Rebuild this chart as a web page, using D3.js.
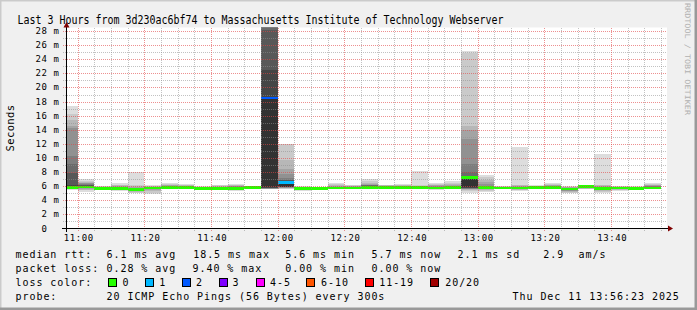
<!DOCTYPE html>
<html>
<head>
<meta charset="utf-8">
<script src="https://cdn.jsdelivr.net/npm/d3@7"></script>
<style>
  body { margin: 0; background: #fff; }
  svg text { font-family: "DejaVu Sans Mono", monospace; white-space: pre; }
</style>
</head>
<body>
<div id="vis"></div>
<script>
const W = 697, H = 310;
const plot = { left: 66, right: 666, top: 27.5, bottom: 228.5 };

// window shown and the 5 minute steps
const day = '2025-12-11';
const windowStart = '10:56:23';
const windowEnd = '13:56:23';
const barStarts = ['10:55', '11:00', '11:05', '11:10', '11:15', '11:20', '11:25', '11:30', '11:35', '11:40',
    '11:45', '11:50', '11:55', '12:00', '12:05', '12:10', '12:15', '12:20', '12:25', '12:30',
    '12:35', '12:40', '12:45', '12:50', '12:55', '13:00', '13:05', '13:10', '13:15', '13:20',
    '13:25', '13:30', '13:35', '13:40', '13:45', '13:50'];

// median rtt (ms) and lost pings per step
const medians = [5.8, 5.9, 5.65, 5.65, 5.5, 5.75, 5.8, 5.85, 5.65, 5.7,
    5.7, 5.85, 18.5, 6.5, 5.7, 5.7, 5.75, 5.75, 5.8, 5.8,
    5.8, 5.8, 5.75, 5.8, 7.2, 5.8, 5.75, 5.75, 5.8, 5.8,
    5.6, 5.95, 5.65, 5.75, 5.7, 5.75];
const lost = [0, 0, 0, 0, 0, 0, 0, 0, 0, 0,
    0, 0, 2, 1, 0, 0, 0, 0, 0, 0,
    0, 0, 0, 0, 0, 0, 0, 0, 0, 0,
    0, 0, 0, 0, 0, 0];

// 20 sorted pings per step (ms), null = lost
const pings = [
    [5.45, 5.6, 5.7, 5.75, 5.78, 5.8, 5.82, 5.85, 5.88, 5.9, 6.0, 6.2, 7.9, 9.15, 10.3, 14.2, 14.5, 15.4, 16.2, 17.4],
    [5.2, 5.4, 5.5, 5.6, 5.7, 5.75, 5.8, 5.82, 5.85, 5.88, 5.95, 6.0, 6.1, 6.2, 6.3, 6.4, 6.5, 6.6, 6.8, 7.0],
    [5.45, 5.5, 5.55, 5.6, 5.62, 5.64, 5.66, 5.68, 5.7, 5.72, 5.74, 5.76, 5.78, 5.8, 5.82, 5.85, 5.88, 5.92, 5.96, 6.0],
    [5.35, 5.45, 5.5, 5.55, 5.6, 5.62, 5.64, 5.66, 5.68, 5.7, 5.72, 5.75, 5.8, 5.85, 5.9, 5.95, 6.0, 6.1, 6.2, 6.4],
    [5.0, 5.1, 5.2, 5.3, 5.35, 5.4, 5.42, 5.45, 5.48, 5.5, 5.55, 5.6, 5.65, 5.7, 5.75, 5.8, 5.9, 6.0, 6.1, 8.0],
    [4.9, 5.1, 5.3, 5.45, 5.55, 5.6, 5.65, 5.7, 5.72, 5.74, 5.76, 5.78, 5.8, 5.82, 5.85, 5.88, 5.92, 5.96, 6.0, 6.1],
    [5.65, 5.68, 5.7, 5.72, 5.74, 5.76, 5.78, 5.79, 5.8, 5.81, 5.82, 5.84, 5.86, 5.9, 5.95, 6.0, 6.1, 6.2, 6.3, 6.5],
    [5.7, 5.72, 5.74, 5.76, 5.78, 5.8, 5.82, 5.84, 5.85, 5.86, 5.87, 5.88, 5.9, 5.92, 5.95, 6.0, 6.05, 6.1, 6.2, 6.35],
    [5.4, 5.45, 5.5, 5.55, 5.58, 5.6, 5.62, 5.63, 5.64, 5.65, 5.66, 5.68, 5.7, 5.72, 5.75, 5.8, 5.85, 5.9, 5.95, 6.0],
    [5.45, 5.5, 5.55, 5.6, 5.62, 5.64, 5.66, 5.68, 5.69, 5.7, 5.71, 5.72, 5.74, 5.76, 5.8, 5.85, 5.9, 6.0, 6.1, 6.2],
    [5.3, 5.4, 5.5, 5.55, 5.6, 5.63, 5.66, 5.68, 5.69, 5.7, 5.72, 5.75, 5.8, 5.85, 5.9, 6.0, 6.05, 6.1, 6.2, 6.35],
    [5.6, 5.65, 5.7, 5.72, 5.75, 5.78, 5.8, 5.82, 5.84, 5.85, 5.86, 5.88, 5.9, 5.92, 5.94, 5.96, 5.98, 6.0, 6.02, 6.05],
    [null, 5.6, 5.62, 5.64, 5.66, 5.68, 5.7, 5.75, 5.8, 5.9, 18.5, 22.5, 28.2, 30.5, 32.0, 34.0, 36.5, 39.0, 42.0, null],
    [5.6, 5.65, 5.7, 5.75, 5.8, 5.82, 5.85, 5.88, 5.9, 5.92, 6.6, 6.75, 6.85, 6.95, 7.1, 7.7, 8.4, 9.7, 12.0, null],
    [5.3, 5.4, 5.5, 5.55, 5.6, 5.62, 5.64, 5.66, 5.68, 5.7, 5.72, 5.74, 5.76, 5.78, 5.8, 5.83, 5.86, 5.9, 5.95, 6.0],
    [5.55, 5.58, 5.6, 5.62, 5.64, 5.66, 5.68, 5.69, 5.7, 5.71, 5.72, 5.73, 5.74, 5.76, 5.78, 5.8, 5.83, 5.86, 5.9, 5.95],
    [5.6, 5.62, 5.65, 5.68, 5.7, 5.72, 5.73, 5.74, 5.75, 5.76, 5.78, 5.8, 5.82, 5.85, 5.9, 5.95, 6.0, 6.1, 6.25, 6.5],
    [5.65, 5.67, 5.69, 5.7, 5.71, 5.72, 5.73, 5.74, 5.75, 5.76, 5.78, 5.8, 5.82, 5.85, 5.9, 5.95, 6.0, 6.05, 6.1, 6.2],
    [5.65, 5.68, 5.7, 5.72, 5.74, 5.76, 5.78, 5.79, 5.8, 5.82, 5.85, 5.9, 6.0, 6.1, 6.15, 6.2, 6.3, 6.5, 6.7, 7.0],
    [5.65, 5.68, 5.7, 5.72, 5.74, 5.76, 5.78, 5.79, 5.8, 5.81, 5.82, 5.84, 5.86, 5.9, 5.95, 6.0, 6.05, 6.1, 6.15, 6.2],
    [5.6, 5.65, 5.7, 5.72, 5.74, 5.76, 5.78, 5.79, 5.8, 5.81, 5.82, 5.84, 5.86, 5.9, 5.95, 6.0, 6.05, 6.1, 6.2, 6.3],
    [5.6, 5.65, 5.7, 5.72, 5.74, 5.76, 5.78, 5.79, 5.8, 5.81, 5.82, 5.84, 5.86, 5.88, 5.9, 5.95, 6.0, 6.05, 6.15, 8.2],
    [5.5, 5.55, 5.6, 5.65, 5.68, 5.7, 5.72, 5.73, 5.74, 5.75, 5.76, 5.78, 5.8, 5.85, 5.9, 6.0, 6.1, 6.2, 6.3, 6.4],
    [5.65, 5.68, 5.7, 5.72, 5.74, 5.76, 5.78, 5.79, 5.8, 5.81, 5.82, 5.84, 5.86, 5.9, 5.95, 6.0, 6.1, 6.25, 6.5, 6.7],
    [5.1, 5.3, 5.45, 5.55, 5.6, 5.65, 5.7, 5.75, 5.8, 5.9, 7.3, 7.35, 7.5, 8.05, 9.15, 12.65, 14.0, 14.5, 24.85, 25.2],
    [5.2, 5.35, 5.45, 5.55, 5.6, 5.65, 5.7, 5.72, 5.75, 5.78, 5.82, 5.86, 5.9, 5.95, 6.0, 6.3, 6.65, 6.9, 7.35, 7.6],
    [5.55, 5.6, 5.62, 5.64, 5.66, 5.68, 5.7, 5.72, 5.73, 5.74, 5.75, 5.76, 5.78, 5.8, 5.82, 5.85, 5.9, 5.95, 6.0, 6.05],
    [5.3, 5.4, 5.5, 5.55, 5.6, 5.62, 5.65, 5.68, 5.7, 5.72, 5.75, 5.78, 5.8, 5.85, 5.9, 5.95, 6.0, 6.1, 6.2, 11.6],
    [5.6, 5.62, 5.65, 5.68, 5.7, 5.72, 5.74, 5.76, 5.78, 5.8, 5.81, 5.82, 5.84, 5.86, 5.88, 5.9, 5.95, 6.0, 6.05, 6.1],
    [5.6, 5.65, 5.7, 5.72, 5.74, 5.76, 5.78, 5.79, 5.8, 5.81, 5.82, 5.84, 5.86, 5.9, 5.95, 6.0, 6.1, 6.2, 6.3, 6.4],
    [5.0, 5.1, 5.2, 5.3, 5.35, 5.4, 5.45, 5.5, 5.55, 5.58, 5.6, 5.62, 5.65, 5.7, 5.75, 5.8, 5.85, 5.9, 5.95, 6.0],
    [5.55, 5.6, 5.65, 5.7, 5.75, 5.8, 5.85, 5.88, 5.9, 5.92, 5.94, 5.96, 5.98, 6.0, 6.02, 6.04, 6.06, 6.08, 6.1, 6.15],
    [5.1, 5.2, 5.3, 5.4, 5.45, 5.5, 5.55, 5.6, 5.62, 5.64, 5.66, 5.7, 5.75, 5.8, 5.85, 5.9, 6.0, 6.1, 6.2, 10.5],
    [5.3, 5.4, 5.5, 5.55, 5.6, 5.63, 5.66, 5.68, 5.7, 5.72, 5.74, 5.76, 5.78, 5.8, 5.82, 5.85, 5.9, 5.95, 6.0, 6.05],
    [5.4, 5.45, 5.5, 5.55, 5.6, 5.62, 5.64, 5.66, 5.68, 5.7, 5.72, 5.74, 5.76, 5.78, 5.8, 5.83, 5.86, 5.9, 5.95, 6.05],
    [5.65, 5.68, 5.7, 5.72, 5.74, 5.76, 5.78, 5.79, 5.8, 5.81, 5.82, 5.85, 5.9, 5.95, 6.0, 6.05, 6.1, 6.2, 6.3, 6.4]
];

const xTickLabels = ['11:00', '11:20', '11:40', '12:00', '12:20', '12:40', '13:00', '13:20', '13:40'];
const yTicks = [0, 2, 4, 6, 8, 10, 12, 14, 16, 18, 20, 22, 24, 26, 28];

const lossBins = ['0', '1', '2', '3', '4-5', '6-10', '11-19', '20/20'];
const lossColors = ['#26ff00', '#00b8ff', '#0059ff', '#7e00ff', '#ff00ff', '#ff5500', '#ff0000', '#a10000'];

const title = 'Last 3 Hours from 3d230ac6bf74 to Massachusetts Institute of Technology Webserver';
const rttStats = ['6.1 ms avg', '18.5 ms max', '5.6 ms min', '5.7 ms now', '2.1 ms sd', '2.9', 'am/s'];
const lossStats = ['0.28 % avg', '9.40 % max', '0.00 % min', '0.00 % now'];
const probeText = '20 ICMP Echo Pings (56 Bytes) every 300s';
const stampText = 'Thu Dec 11 13:56:23 2025';

// utc so that no local timezone shifts the steps
const parseHMS = s => d3.utcParse('%Y-%m-%d %H:%M:%S')(`${day} ${s}`);
const parseHM = s => d3.utcParse('%Y-%m-%d %H:%M')(`${day} ${s}`);

const svg = d3.select('#vis')
    .append('svg')
    .attr('width', W)
    .attr('height', H);

const xScale = d3.scaleUtc()
    .domain([parseHMS(windowStart), parseHMS(windowEnd)])
    .range([plot.left, plot.right]);
const yScale = d3.scaleLinear()
    .domain([0, 28.51])
    .range([plot.bottom, plot.top]);

function lossIndex(n) {
    if (n <= 3) return n;
    if (n <= 5) return 4;
    if (n <= 10) return 5;
    if (n <= 19) return 6;
    return 7;
}

function drawFrame() {
    svg.append('rect').attr('width', W).attr('height', H).attr('fill', '#f0f0f0');
    // rrdtool style shaded border
    svg.append('path').attr('d', `M0,${H} V0 H${W}`).attr('stroke', '#cbcbcb').attr('stroke-width', 3).attr('fill', 'none');
    svg.append('path').attr('d', `M0,${H - 1} H${W - 1} V0`).attr('stroke', '#999').attr('stroke-width', 3).attr('fill', 'none');

    svg.append('rect')
        .attr('x', plot.left).attr('y', plot.top)
        .attr('width', plot.right - plot.left + 1).attr('height', plot.bottom - plot.top)
        .attr('fill', '#fff');

    svg.append('clipPath').attr('id', 'plotclip')
        .append('rect')
        .attr('x', plot.left).attr('y', plot.top)
        .attr('width', plot.right - plot.left).attr('height', plot.bottom - plot.top);
}

function drawSmoke() {
    const g = svg.append('g').attr('clip-path', 'url(#plotclip)').attr('shape-rendering', 'crispEdges');
    const step = 5 * 60 * 1000;

    barStarts.forEach((s, i) => {
        const t0 = parseHM(s);
        const x0 = Math.floor(xScale(t0));
        const x1 = Math.floor(xScale(new Date(+t0 + step)));
        const p = pings[i];
        // smokeping smoke: nested pairs, darker towards the middle
        for (let k = 0; k < 10; k++) {
            const lo = p[k], hi = p[19 - k];
            if (lo == null || hi == null) continue;
            const c = Math.floor(190 / 10 * (10 - (k + 1))) + 50;
            g.append('rect')
                .attr('x', x0).attr('width', x1 - x0)
                .attr('y', yScale(hi)).attr('height', yScale(lo) - yScale(hi))
                .attr('fill', d3.rgb(c, c, c));
        }
        g.append('rect')
            .attr('x', x0).attr('width', x1 - x0)
            .attr('y', yScale(medians[i]) - 1.3).attr('height', 2.6)
            .attr('fill', lossColors[lossIndex(lost[i])]);
    });
}

function drawGrid() {
    const g = svg.append('g').attr('fill', 'none').attr('stroke-width', 1).attr('stroke-dasharray', '1,1');
    const minor = 'rgba(143,143,143,0.55)';
    const major = 'rgba(225,70,70,0.6)';

    // horizontal grid, every 1 ms, labelled lines red
    d3.range(1, 29).forEach(v => {
        const y = Math.round(yScale(v)) + 0.5;
        g.append('line')
            .attr('x1', plot.left - 3).attr('x2', plot.right)
            .attr('y1', y).attr('y2', y)
            .attr('stroke', v % 2 === 0 ? major : minor);
    });

    // vertical grid on every 5 minute step, red where a time label sits
    const stepLines = barStarts.slice(1).concat(['13:55']);
    stepLines.forEach(s => {
        const x = Math.floor(xScale(parseHM(s))) + 0.5;
        g.append('line')
            .attr('x1', x).attr('x2', x)
            .attr('y1', 28).attr('y2', 232)
            .attr('stroke', xTickLabels.includes(s) ? major : minor);
    });
}

function drawAxes() {
    const arrow = '#7f0000';
    svg.append('line')
        .attr('x1', plot.left - 4).attr('x2', plot.right + 4)
        .attr('y1', plot.bottom).attr('y2', plot.bottom)
        .attr('stroke', '#000');
    svg.append('path')
        .attr('d', `M${plot.right + 2},${plot.bottom - 3} L${plot.right + 7},${plot.bottom} L${plot.right + 2},${plot.bottom + 3} Z`)
        .attr('fill', arrow);

    svg.append('line')
        .attr('x1', plot.left + 0.5).attr('x2', plot.left + 0.5)
        .attr('y1', plot.bottom + 3.5).attr('y2', plot.top - 2)
        .attr('stroke', '#000');
    svg.append('path')
        .attr('d', `M${plot.left - 2.5},${plot.top} L${plot.left + 0.5},${plot.top - 5.5} L${plot.left + 3.5},${plot.top} Z`)
        .attr('fill', arrow);

    // y labels
    svg.append('g').selectAll('text')
        .data(yTicks)
        .enter()
        .append('text')
        .attr('x', 35.5)
        .attr('y', d => yScale(d) + 3)
        .attr('font-size', 9)
        .attr('letter-spacing', 0.6)
        .attr('fill', '#000')
        .text(d => String(d).padStart(2, ' ') + (d ? ' m' : ''));

    // x labels
    svg.append('g').selectAll('text')
        .data(xTickLabels)
        .enter()
        .append('text')
        .attr('x', d => xScale(parseHM(d)) + 0.8)
        .attr('y', 241)
        .attr('text-anchor', 'middle')
        .attr('font-size', 9)
        .attr('letter-spacing', 0.6)
        .text(d => d);

    svg.append('text')
        .attr('transform', 'translate(14,128) rotate(-90)')
        .attr('text-anchor', 'middle')
        .attr('font-size', 10.5)
        .attr('letter-spacing', 0.4)
        .text('Seconds');
}

function drawTitle() {
    svg.append('text')
        .attr('x', 17.5)
        .attr('y', 23.5)
        .attr('font-size', 12)
        .attr('textLength', 486)
        .attr('lengthAdjust', 'spacingAndGlyphs')
        .text(title);

    svg.append('text')
        .attr('transform', 'translate(685,3) rotate(90)')
        .attr('font-size', 7.5)
        .attr('textLength', 112)
        .attr('lengthAdjust', 'spacingAndGlyphs')
        .attr('fill', '#b0b0b0')
        .text('RRDTOOL / TOBI OETIKER');
}

function drawLegend() {
    const lg = svg.append('g').attr('font-size', 10).attr('letter-spacing', 0.95).attr('fill', '#000');
    const rows = [258.3, 272, 286.2, 300];
    const col = 106.5;

    lg.append('text').attr('x', 15.5).attr('y', rows[0]).text('median rtt:');
    const rttX = [col, 193.2, 285.2, 371.5, 457.5, 543.2, 578.5];
    rttStats.forEach((s, i) => lg.append('text').attr('x', rttX[i]).attr('y', rows[0]).text(s));

    lg.append('text').attr('x', 15.5).attr('y', rows[1]).text('packet loss:');
    const lossX = [col, 192.5, 285.2, 371.5];
    lossStats.forEach((s, i) => lg.append('text').attr('x', lossX[i]).attr('y', rows[1]).text(s));

    lg.append('text').attr('x', 15.5).attr('y', rows[2]).text('loss color:');
    const boxX = [108.5, 145.5, 182.5, 219.5, 256.5, 306.5, 365.5, 430.5];
    const binX = [122.5, 159.2, 196, 232.5, 270, 321, 379.2, 445.2];
    lossBins.forEach((b, i) => {
        lg.append('rect')
            .attr('x', boxX[i]).attr('y', 278.5)
            .attr('width', 8).attr('height', 8)
            .attr('fill', lossColors[i])
            .attr('stroke', '#000').attr('stroke-width', 1);
        lg.append('text').attr('x', binX[i]).attr('y', rows[2]).text(b);
    });

    lg.append('text').attr('x', 15.5).attr('y', rows[3]).text('probe:');
    lg.append('text').attr('x', col).attr('y', rows[3]).text(probeText);
    lg.append('text').attr('x', 512.5).attr('y', rows[3]).text(stampText);
}

drawFrame();
drawSmoke();
drawGrid();
drawAxes();
drawTitle();
drawLegend();
</script>
</body>
</html>
